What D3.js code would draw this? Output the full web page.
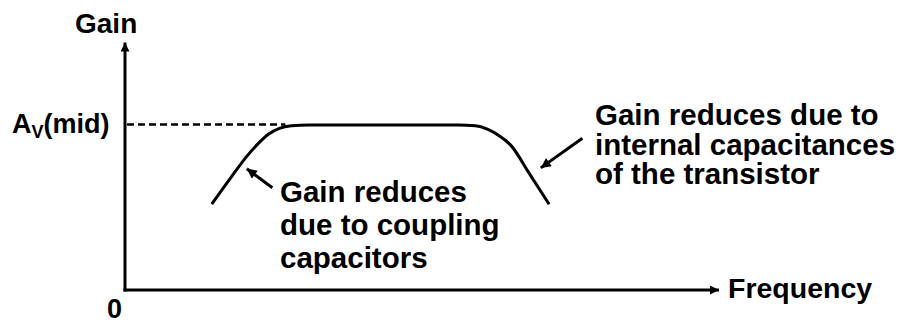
<!DOCTYPE html>
<html>
<head>
<meta charset="utf-8">
<script src="https://cdn.jsdelivr.net/npm/d3@7"></script>
<style>
  html, body { margin: 0; padding: 0; background: #fff; }
  svg { display: block; }
  text { font-family: "Liberation Sans", Arial, sans-serif; font-weight: bold; fill: #000; }
</style>
</head>
<body>
<svg id="chart" width="904" height="323"></svg>
<script>
// Frequency-response curve (relative units): frequency vs gain (gain 1 = Av(mid))
const frequency = [14.6, 18.0, 20.5, 22.5, 24.2, 26.0, 28.0, 31.0, 56.0, 59.0, 61.0, 63.0, 65.0, 68.0, 71.4];
const gain      = [0.52, 0.69, 0.81, 0.89, 0.945, 0.98, 0.995, 1.0, 1.0, 0.995, 0.975, 0.935, 0.875, 0.71, 0.52];

const axisLabels = { x: "Frequency", y: "Gain", origin: "0" };
const midGainLabel = ["A", "V", "(mid)"];
const midGain = 1.0;

// Annotations: arrow tail -> tip (data coords), text lines
const leftArrow  = { from: [24.8, 0.62], to: [20.5, 0.735] };
const rightArrow = { from: [77.0, 0.92], to: [70.0, 0.74] };
const leftNote  = ["Gain reduces", "due to coupling", "capacitors"];
const rightNote = ["Gain reduces due to", "internal capacitances", "of the transistor"];

const svg = d3.select("#chart");
const x = d3.scaleLinear().domain([0, 100]).range([125, 719]);
const y = d3.scaleLinear().domain([0, 1]).range([290, 125]);

// arrow markers
const defs = svg.append("defs");
function marker(id, w, h) {
  defs.append("marker")
    .attr("id", id).attr("viewBox", "0 0 10 10")
    .attr("refX", 10).attr("refY", 5)
    .attr("markerWidth", w).attr("markerHeight", h)
    .attr("markerUnits", "userSpaceOnUse")
    .attr("orient", "auto")
    .append("path").attr("d", "M0,0 L10,5 L0,10 Z").attr("fill", "#000");
}
marker("axisHead", 12, 9);
marker("noteHead", 12, 10);

// axes
svg.append("line")
  .attr("x1", x(0)).attr("y1", y(0) + 1.5)
  .attr("x2", x(0)).attr("y2", y(1.5))
  .attr("stroke", "#000").attr("stroke-width", 3)
  .attr("marker-end", "url(#axisHead)");
svg.append("line")
  .attr("x1", x(0) - 1.5).attr("y1", y(0))
  .attr("x2", x(100)).attr("y2", y(0))
  .attr("stroke", "#000").attr("stroke-width", 3)
  .attr("marker-end", "url(#axisHead)");

// dashed Av(mid) line
svg.append("line")
  .attr("x1", x(0) + 2).attr("y1", y(midGain) - 0.5)
  .attr("x2", x(27)).attr("y2", y(midGain) - 0.5)
  .attr("stroke", "#000").attr("stroke-width", 2.6)
  .attr("stroke-dasharray", "7,4");

// response curve
const line = d3.line().x((d, i) => x(frequency[i])).y((d, i) => y(gain[i])).curve(d3.curveMonotoneX);
svg.append("path")
  .datum(frequency)
  .attr("d", line)
  .attr("fill", "none").attr("stroke", "#000").attr("stroke-width", 3);

// annotation arrows
[leftArrow, rightArrow].forEach(a => {
  svg.append("line")
    .attr("x1", x(a.from[0])).attr("y1", y(a.from[1]))
    .attr("x2", x(a.to[0])).attr("y2", y(a.to[1]))
    .attr("stroke", "#000").attr("stroke-width", 3)
    .attr("marker-end", "url(#noteHead)");
});

// labels
svg.append("text").attr("x", 75).attr("y", 33).attr("font-size", 28).text(axisLabels.y);
svg.append("text").attr("x", 728).attr("y", 298).attr("font-size", 28.5).text(axisLabels.x);
svg.append("text").attr("x", 107).attr("y", 318).attr("font-size", 27).text(axisLabels.origin);

const av = svg.append("text").attr("x", 12).attr("y", 133).attr("font-size", 27);
av.append("tspan").text(midGainLabel[0]);
av.append("tspan").attr("font-size", 18).attr("dy", 5).text(midGainLabel[1]);
av.append("tspan").attr("dy", -5).text(midGainLabel[2]);

svg.selectAll("text.left-note").data(leftNote).join("text")
  .attr("class", "left-note").attr("font-size", 29.5)
  .attr("x", 280).attr("y", (d, i) => 202 + i * 33).text(d => d);

svg.selectAll("text.right-note").data(rightNote).join("text")
  .attr("class", "right-note").attr("font-size", 29.5)
  .attr("x", 595).attr("y", (d, i) => 125 + i * 29.5).text(d => d);
</script>
</body>
</html>
